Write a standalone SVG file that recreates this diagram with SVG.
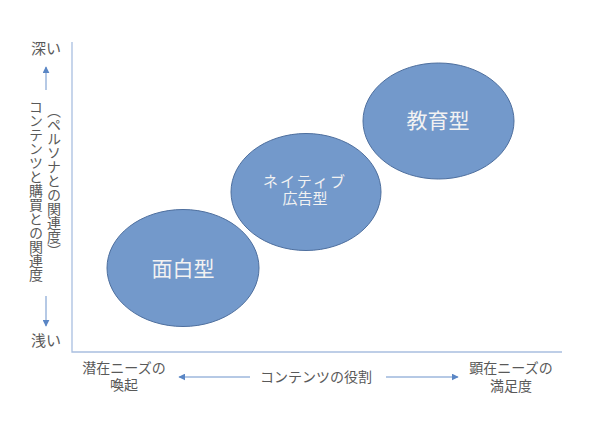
<svg xmlns="http://www.w3.org/2000/svg" width="600" height="424" viewBox="0 0 600 424">
<defs>
<style>
.t{font-family:"Noto Sans CJK JP","Noto Sans CJK SC",sans-serif;fill:#595959;}
.w{font-family:"Noto Sans CJK JP","Noto Sans CJK SC",sans-serif;fill:#F2F2F2;text-anchor:middle;}
.e{fill:#7399CB;stroke:#4E6F9E;stroke-width:1;}
.ax{stroke:#A9BFE0;stroke-width:1.3;fill:none;}
.ar{stroke:#6C93CB;stroke-width:1;fill:none;}
.v{writing-mode:vertical-rl;font-size:14px;}
</style>
<marker id="ah" viewBox="0 0 10 10" refX="9" refY="5" markerWidth="7" markerHeight="7" markerUnits="userSpaceOnUse" orient="auto">
<path d="M0,0 L10,5 L0,10 Z" fill="#5A86C5"/>
</marker>
</defs>
<rect width="600" height="424" fill="#fff"/>
<g id="connectors">
<path class="ax" d="M72,42 V352 H562"/>
<line class="ar" x1="46" y1="90" x2="46" y2="67" marker-end="url(#ah)"/>
<line class="ar" x1="46" y1="296" x2="46" y2="326" marker-end="url(#ah)"/>
<line class="ar" x1="250" y1="377" x2="179" y2="377" marker-end="url(#ah)"/>
<line class="ar" x1="386" y1="377" x2="458" y2="377" marker-end="url(#ah)"/>
</g>
<g id="node-omoshiro">
<ellipse class="e" cx="183" cy="268" rx="76" ry="58.5"/>
<text class="w" x="183" y="276" font-size="21">面白型</text>
</g>
<g id="node-native">
<ellipse class="e" cx="306" cy="192" rx="75" ry="58.5"/>
<text class="w" x="305" y="187" font-size="15" letter-spacing="2">ネイティブ</text>
<text class="w" x="305" y="204" font-size="15">広告型</text>
</g>
<g id="node-kyoiku">
<ellipse class="e" cx="438.5" cy="121" rx="75.5" ry="58"/>
<text class="w" x="438" y="128" font-size="21">教育型</text>
</g>
<g id="labels">
<text class="t" x="46" y="54" font-size="15" text-anchor="middle">深い</text>
<text class="t" x="46" y="346" font-size="15" text-anchor="middle">浅い</text>
<text class="t v" x="36" y="100">コンテンツと購買との関連度</text>
<text class="t v" x="54" y="104">（ペルソナとの関連度）</text>
<text class="t" x="124" y="373" font-size="14" text-anchor="middle">潜在ニーズの</text>
<text class="t" x="124" y="390" font-size="14" text-anchor="middle">喚起</text>
<text class="t" x="316" y="382" font-size="14" text-anchor="middle">コンテンツの役割</text>
<text class="t" x="511" y="373" font-size="14" text-anchor="middle">顕在ニーズの</text>
<text class="t" x="511" y="391" font-size="14" text-anchor="middle">満足度</text>
</g>
</svg>
